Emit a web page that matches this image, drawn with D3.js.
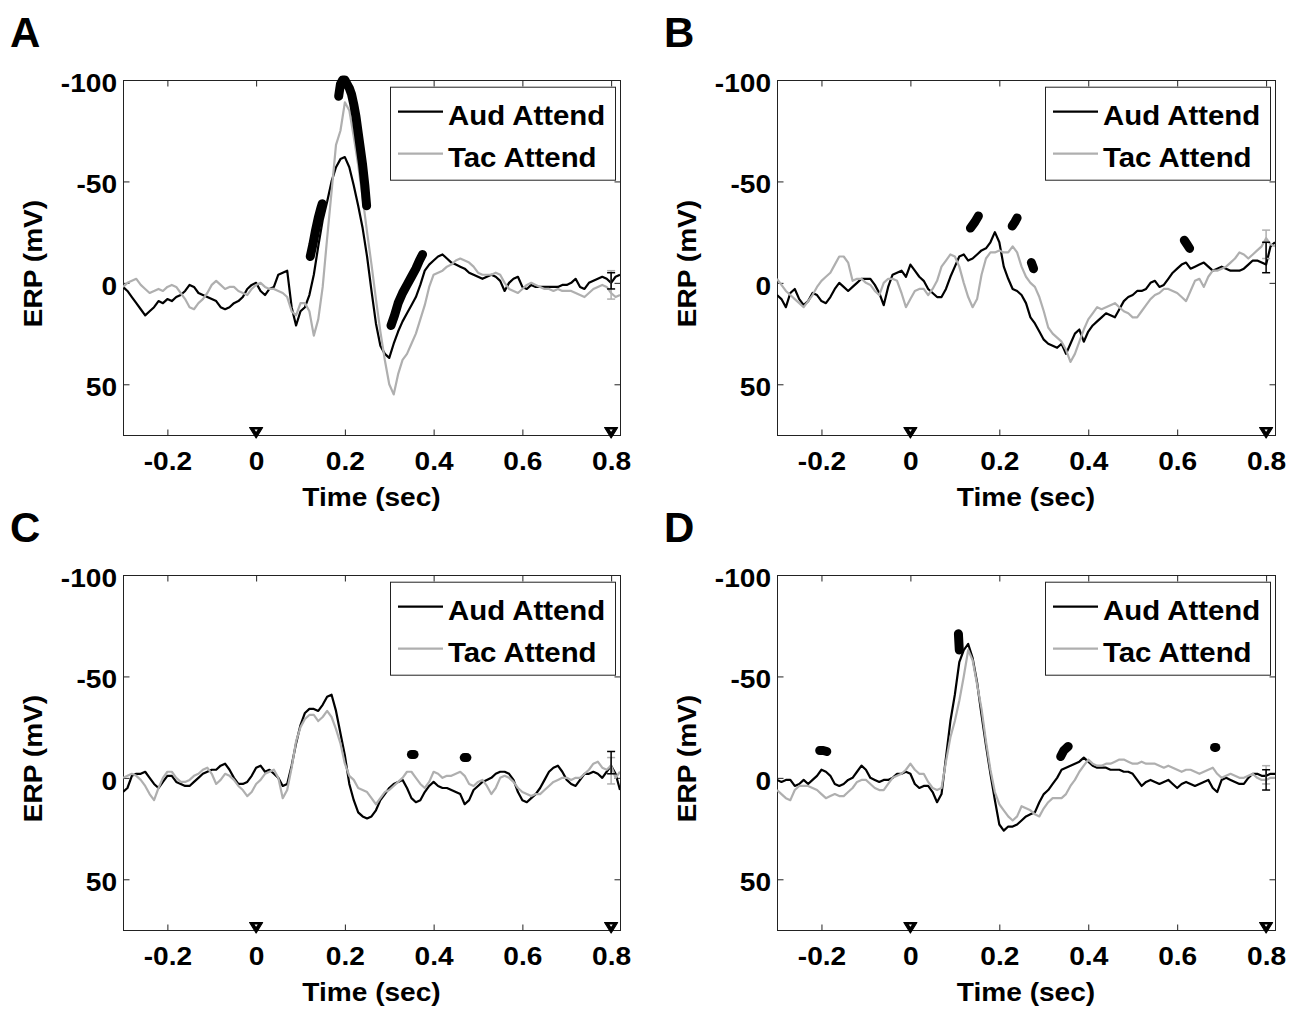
<!DOCTYPE html>
<html>
<head>
<meta charset="utf-8">
<script src="https://cdn.jsdelivr.net/npm/d3@7"></script>
<style>
  body { margin: 0; background: #fff; }
  svg { display: block; }
  text { font-family: "Liberation Sans", Arial, Helvetica, sans-serif; font-weight: bold; fill: #000; }
</style>
</head>
<body>
<svg id="chart" width="1302" height="1011"></svg>
<script>
// ---------------- DATA ----------------
// sample times (s), 10 ms grid from -0.30 to 0.82
const timeSec = d3.range(-30, 83).map(i => i / 100);

const xTicks = [-0.2, 0, 0.2, 0.4, 0.6, 0.8];
const yTicks = [-100, -50, 0, 50];
const xDomain = [-0.3, 0.82];
const yDomain = [-100, 75];
const seriesNames = ["Aud Attend", "Tac Attend"];
const panelLetters = ["A", "B", "C", "D"];
const stimTimes = [0, 0.8];
const errTime = 0.8;

// Panel A
const audA = [2,4,7,10,13,16,14,12,9,10, 8,9,7,6,4,1,2,5,6,7, 8,9,12,13,12,10,9,7,3,1,
  0,4,6,3,2,-4,-5,-6,12,21, 14,12,6,-4,-18,-31,-40,-50,-57,-61, -62,-57,-48,-38,-27,-13,4,20,31,35,
  37,30,24,19,15,11,7,1,-6,-9, -11,-13,-14,-12,-10,-9,-8,-7,-5,-4, -3,-2,-3,-4,-3,-1,4,0,-2,-3,
  2,3,1,2,2,2,2,2,2,1, 1,0,-2,2,3,0,-1,-2,-3,-2, 0,-3,-4];
const tacA = [2,0,-1,-2,1,3,5,4,3,4, 2,1,2,5,8,12,13,10,8,5, 1,-1,1,3,2,2,4,5,6,3,
  1,0,2,3,3,4,5,7,14,16, 10,10,14,26,18,2,-22,-45,-68,-75, -89,-85,-72,-58,-42,-25,-9,8,24,38,
  50,55,45,38,35,30,25,18,11,2, -4,-5,-6,-8,-9,-11,-12,-11,-10,-8, -5,-4,-4,-4,-5,-4,0,3,4,5,
  3,1,0,1,2,3,3,4,3,4, 4,4,5,6,7,5,3,2,1,2, 5,7,6];

// Panel B
const audB = [6,8,12,5,3,8,11,9,5,6, 9,10,7,3,0,2,4,2,0,-2, -2,-2,1,5,11,2,-4,-5,-6,-3,
  -9,-6,-3,-1,3,5,7,7,3,-3, -8,-13,-14,-11,-12,-14,-16,-17,-20,-25, -20,-8,-2,3,4,6,10,17,20,24,
  28,30,31,32,30,35,30,25,23,29, 24,21,19,17,15,16,17,13,9,7, 6,4,4,3,0,-1,2,1,-2,-5,
  -7,-9,-10,-7,-8,-9,-10,-8,-6,-7, -8,-7,-6,-6,-6,-7,-9,-11,-11,-10, -9,-18,-20];
const tacB = [-2,1,4,6,8,10,12,9,6,2, -1,-3,-5,-9,-13,-13,-10,-1,-2,-2, 0,1,4,6,0,-2,-2,-1,5,12,
  8,4,3,3,6,3,-1,-8,-11,-14, -13,-8,0,7,12,8,-4,-12,-15,-15, -16,-15,-15,-18,-15,-8,-3,0,2,7,
  14,22,25,27,29,33,39,35,29,23, 18,15,12,13,12,11,10,12,14,15, 17,17,14,11,8,6,5,3,3,4,
  5,7,9,4,-1,-2,2,-3,-6,-6, -7,-8,-10,-12,-15,-14,-12,-14,-16,-18, -22,-19,-18];

// Panel C
const audC = [7,5,-1,-2,-2,-3,0,3,5,2, -1,-1,2,3,4,4,2,0,-2,-3, -4,-4,-6,-7,-4,0,3,3,2,-1,
  -5,-6,-3,-4,-2,0,4,3,-6,-17, -26,-32,-34,-34,-33,-36,-40,-41,-33,-22, -11,3,11,17,19,20,19,16,11,8,
  5,3,2,1,5,10,12,11,7,4, 2,4,5,5,6,7,8,13,11,6, 4,2,1,0,-2,-3,-3,-2,1,7,
  11,12,10,8,5,1,-3,-5,-6,-3, 1,3,4,1,-2,-2,-3,-2,0,-3, -6,-2,6];
const tacC = [0,-1,-2,-1,1,4,8,11,5,0, -3,-3,0,2,2,1,-1,-2,-4,-5, -2,3,1,-2,-1,1,4,6,9,7,
  3,1,-2,-3,-4,0,10,6,-5,-18, -25,-29,-31,-31,-28,-30,-33,-30,-24,-17, -7,-1,1,5,6,7,10,13,10,7,
  6,4,2,0,-3,-3,0,3,5,2, -3,-2,0,-1,-1,-2,-3,-1,3,4, 2,1,4,8,5,0,-1,0,2,5,
  7,8,9,8,8,6,4,2,1,0, 0,1,0,0,-2,-4,-7,-8,-5,-4, -6,0,-3];

// Panel D
const audD = [1,2,1,1,4,3,1,3,1,-1, -4,-3,-1,3,4,3,1,0,-3,-6, -4,0,1,2,1,1,0,-2,-2,-3,
  -2,3,5,4,4,7,12,8,-10,-28, -41,-57,-63,-66,-59,-47,-31,-16,-2,11, 23,26,24,24,23,21,19,18,17,12,
  8,6,3,0,-4,-5,-6,-7,-8,-10, -8,-6,-5,-5,-5,-4,-4,-4,-3,-3, -2,1,4,2,1,2,3,2,1,3,
  5,3,2,3,4,3,2,1,5,7, 1,0,1,2,3,3,0,-2,-2,-1, -1,-2,-2];
const tacD = [6,8,10,11,6,4,4,4,5,6, 8,10,9,8,9,9,7,5,2,1, 1,3,5,6,6,3,0,-1,-2,-4,
  -7,-4,-2,-2,2,5,6,5,-8,-20, -28,-38,-50,-63,-58,-46,-34,-18,-4,7, 13,16,19,21,19,14,15,16,18,19,
  15,12,10,10,10,8,4,1,-3,-6, -9,-7,-6,-6,-7,-7,-8,-9,-9,-8, -7,-7,-8,-7,-7,-7,-6,-5,-6,-5,
  -4,-3,-4,-4,-3,-2,-3,-4,-5,-2, 0,-1,-2,-1,0,0,-1,-2,0,1, 1,0,0];

// significance marker runs: [time, value]
const sigA = [
  [[0.122,-13],[0.128,-19],[0.134,-26],[0.140,-32],[0.146,-37],[0.149,-39]],
  [[0.186,-92],[0.190,-98],[0.195,-100],[0.200,-100],[0.205,-98],[0.210,-96],[0.215,-93],[0.220,-88],
   [0.225,-82],[0.230,-74],[0.235,-66],[0.240,-58],[0.245,-48],[0.249,-38]],
  [[0.304,21],[0.312,16],[0.320,10],[0.330,5],[0.340,1],[0.350,-3],[0.360,-7],[0.368,-11],[0.375,-14]]
];
const sigB = [
  [[0.135,-27],[0.145,-30],[0.153,-33]],
  [[0.229,-28],[0.235,-30],[0.240,-32]],
  [[0.272,-10],[0.277,-7]],
  [[0.616,-21],[0.622,-19],[0.628,-17]]
];
const sigC = [
  [[0.350,-11.5],[0.356,-11.5]],
  [[0.469,-10],[0.475,-10]]
];
const sigD = [
  [[-0.204,-13.5],[-0.196,-13.5],[-0.188,-13]],
  [[0.108,-71],[0.109,-67],[0.110,-63]],
  [[0.338,-10.5],[0.345,-13.5],[0.355,-15.5]],
  [[0.684,-15],[0.687,-15]]
];

// error bars at end of epoch: [low, high] for Aud, Tac
const errAudA = [-5, 3],   errTacA = [-6, 8];
const errAudB = [-20, -5], errTacB = [-26, -12];
const errAudC = [-13, -2], errTacC = [-10, 3];
const errAudD = [-4, 6],   errTacD = [-6, 3];

// ---------------- STYLE / LAYOUT ----------------
const colAud = "#000000", colTac = "#afafaf", colFrame = "#222222";
const SX = 1.08;

const panels = [
  {letter: panelLetters[0], left: 123, top: 80,  w: 497, h: 355, aud: audA, tac: tacA, sig: sigA, errAud: errAudA, errTac: errTacA},
  {letter: panelLetters[1], left: 777, top: 80,  w: 498, h: 355, aud: audB, tac: tacB, sig: sigB, errAud: errAudB, errTac: errTacB},
  {letter: panelLetters[2], left: 123, top: 575, w: 497, h: 355, aud: audC, tac: tacC, sig: sigC, errAud: errAudC, errTac: errTacC},
  {letter: panelLetters[3], left: 777, top: 575, w: 498, h: 355, aud: audD, tac: tacD, sig: sigD, errAud: errAudD, errTac: errTacD}
];

const svg = d3.select("#chart");
const defs = svg.append("defs");

function stext(g, x, y, str, size, anchor, sx, rot) {
  return g.append("text")
    .attr("transform", `translate(${x},${y})` + (rot ? ` rotate(${rot})` : "") + ` scale(${sx},1)`)
    .attr("text-anchor", anchor)
    .style("font-size", size + "px")
    .text(str);
}

function styleAxis(ax) {
  ax.attr("font-family", null).attr("font-size", null);
  ax.select(".domain").remove();
  ax.selectAll(".tick line").attr("stroke", colFrame).attr("stroke-width", 1);
}

panels.forEach((p, pi) => {
  const x = d3.scaleLinear().domain(xDomain).range([p.left, p.left + p.w]);
  const y = d3.scaleLinear().domain(yDomain).range([p.top, p.top + p.h]);
  const g = svg.append("g");
  const bottom = p.top + p.h, right = p.left + p.w;

  const clipId = "clip" + pi;
  defs.append("clipPath").attr("id", clipId).append("rect")
    .attr("x", p.left).attr("y", p.top).attr("width", p.w).attr("height", p.h);

  // axes (inward ticks on all four sides)
  const fmt = d => String(d);
  const axB = g.append("g").attr("transform", `translate(0,${bottom + 0.5})`)
    .call(d3.axisBottom(x).tickValues(xTicks).tickSize(-6).tickFormat(fmt));
  styleAxis(axB);
  axB.selectAll(".tick text").attr("y", null).attr("dy", null)
    .attr("transform", `translate(0,34) scale(${SX},1)`)
    .style("font-size", "26px").attr("fill", "#000");

  const axT = g.append("g").attr("transform", `translate(0,${p.top + 0.5})`)
    .call(d3.axisTop(x).tickValues(xTicks).tickSize(-6).tickFormat(""));
  styleAxis(axT);

  const axL = g.append("g").attr("transform", `translate(${p.left + 0.5},0)`)
    .call(d3.axisLeft(y).tickValues(yTicks).tickSize(-6).tickFormat(fmt));
  styleAxis(axL);
  axL.selectAll(".tick text").attr("x", null).attr("dy", null)
    .attr("transform", `translate(-6.5,11.5) scale(${SX},1)`)
    .attr("text-anchor", "end")
    .style("font-size", "26px").attr("fill", "#000");

  const axR = g.append("g").attr("transform", `translate(${right + 0.5},0)`)
    .call(d3.axisRight(y).tickValues(yTicks).tickSize(-6).tickFormat(""));
  styleAxis(axR);

  // frame
  g.append("rect").attr("x", p.left + 0.5).attr("y", p.top + 0.5)
    .attr("width", p.w).attr("height", p.h)
    .attr("fill", "none").attr("stroke", colFrame).attr("stroke-width", 1);

  // traces
  const line = d3.line().x((d, i) => x(timeSec[i])).y(d => y(d));
  const traces = g.append("g").attr("clip-path", `url(#${clipId})`);
  traces.append("path").datum(p.aud).attr("d", line)
    .attr("fill", "none").attr("stroke", colAud).attr("stroke-width", 2.2).attr("stroke-linejoin", "round");
  traces.append("path").datum(p.tac).attr("d", line)
    .attr("fill", "none").attr("stroke", colTac).attr("stroke-width", 2.2).attr("stroke-linejoin", "round");

  // error bars at end of epoch
  const ex = x(errTime);
  [[p.errTac, colTac], [p.errAud, colAud]].forEach(([e, c]) => {
    const eg = g.append("g").attr("stroke", c).attr("stroke-width", 1.5);
    eg.append("line").attr("x1", ex).attr("x2", ex).attr("y1", y(e[0])).attr("y2", y(e[1]));
    eg.append("line").attr("x1", ex - 4).attr("x2", ex + 4).attr("y1", y(e[0])).attr("y2", y(e[0]));
    eg.append("line").attr("x1", ex - 4).attr("x2", ex + 4).attr("y1", y(e[1])).attr("y2", y(e[1]));
  });

  // significance markers
  const sline = d3.line().x(d => x(d[0])).y(d => y(d[1]));
  p.sig.forEach(run => {
    g.append("path").datum(run).attr("d", sline)
      .attr("fill", "none").attr("stroke", "#000").attr("stroke-width", 9)
      .attr("stroke-linecap", "round").attr("stroke-linejoin", "round");
  });

  // stimulus markers (triangles) on bottom axis
  stimTimes.forEach(t => {
    const cx = x(t);
    g.append("path").attr("d", `M${cx - 6.5},${bottom - 7.5}L${cx + 6.5},${bottom - 7.5}L${cx},${bottom + 3}Z`)
      .attr("fill", "#000").attr("stroke", "#000").attr("stroke-width", 1.2).attr("stroke-linejoin", "round");
    g.append("path").attr("d", `M${cx - 1.6},${bottom - 5.5}L${cx + 1.6},${bottom - 5.5}L${cx},${bottom - 3.2}Z`)
      .attr("fill", "#fff");
  });

  // legend
  const lx = right - 230, ly = p.top + 6.7;
  g.append("rect").attr("x", lx + 0.5).attr("y", ly + 0.5).attr("width", 225).attr("height", 93)
    .attr("fill", "#fff").attr("stroke", colFrame).attr("stroke-width", 1);
  [[colAud, 25, 38], [colTac, 67, 80]].forEach(([c, ly1, lyText], k) => {
    g.append("line").attr("x1", lx + 8).attr("x2", lx + 53).attr("y1", ly + ly1).attr("y2", ly + ly1)
      .attr("stroke", c).attr("stroke-width", 2.2);
    stext(g, lx + 58, ly + lyText, seriesNames[k], 28, "start", 1.05);
  });

  // axis labels
  stext(g, (p.left + right) / 2, bottom + 71, "Time (sec)", 26, "middle", SX);
  stext(g, p.left - 81, p.top + p.h / 2 + 6, "ERP (mV)", 26, "middle", SX, -90);

  // panel letter
  stext(g, p.left - 113, p.top - 33, p.letter, 42, "start", 1);
});
</script>
</body>
</html>
